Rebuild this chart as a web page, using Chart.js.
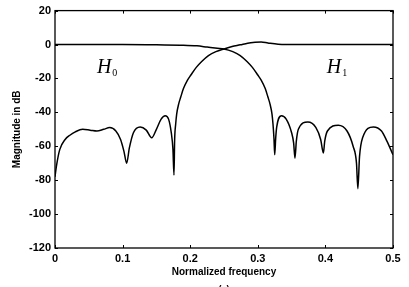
<!DOCTYPE html>
<html>
<head>
<meta charset="utf-8">
<script src="https://cdn.jsdelivr.net/npm/chart.js@4.4.1/dist/chart.umd.min.js"></script>
<style>
  html, body { margin: 0; padding: 0; background: #fff; }
  #wrap { width: 409px; height: 287px; }
</style>
</head>
<body>
<div id="wrap"><canvas id="chart"></canvas></div>
<script>
// 低通 H0 的幅频响应
const freqH0 = [0, 0.05, 0.1, 0.15, 0.19, 0.21, 0.225, 0.24, 0.25, 0.263, 0.274, 0.284, 0.292, 0.3, 0.305, 0.311,
  0.315, 0.318, 0.321, 0.3225, 0.324, 0.325,
  0.3265, 0.328, 0.335, 0.342, 0.35, 0.353, 0.355, 0.357, 0.36, 0.374, 0.386, 0.393, 0.397, 0.399, 0.403,
  0.419, 0.432, 0.441, 0.446, 0.448, 0.4505, 0.455, 0.471, 0.483, 0.491, 0.5];
const magH0 = [0, 0, 0, -0.2, -0.4, -0.8, -1.5, -2.2, -2.6, -4.2, -6.5, -10, -13.5, -18, -21, -26,
  -31, -35, -41, -47, -56, -65,
  -55, -48.6, -42, -44, -52, -58, -67, -57, -50, -45.7, -49, -56, -64, -57, -51,
  -47.6, -51, -60, -70, -85, -66, -55, -48.6, -51, -57, -65];

// 高通 H1 的幅频响应
const freqH1 = [0, 0.002, 0.007, 0.015, 0.022, 0.03, 0.041, 0.052, 0.062, 0.072, 0.081, 0.09, 0.097, 0.102, 0.106,
  0.11, 0.116, 0.126, 0.135, 0.143, 0.15, 0.157, 0.163, 0.168, 0.172, 0.1745, 0.176,
  0.177, 0.1785, 0.18, 0.183, 0.186, 0.19, 0.196, 0.201, 0.209, 0.217, 0.227, 0.238, 0.25,
  0.262, 0.274, 0.285, 0.296, 0.305, 0.315, 0.33, 0.36, 0.4, 0.45, 0.5];
const magH1 = [-78, -72, -62, -56, -53.5, -51.5, -50, -50.5, -51, -50, -49, -51, -56, -63, -70,
  -61, -52, -48.6, -50.5, -55, -50, -44, -42, -44, -52, -62, -77,
  -56, -47, -41, -35, -31, -26, -21, -18, -13.5, -10, -6.5, -4.2, -2.6,
  -1.2, -0.2, 0.8, 1.3, 1.5, 0.9, 0.2, 0, 0, 0, 0];

// 刻度
const freqTicks = [0, 0.1, 0.2, 0.3, 0.4, 0.5];
const dbTicks = [-120, -100, -80, -60, -40, -20, 0, 20];

// 曲线标注
const curveLabels = [
  { name: 'H', sub: '0', x: 0.062, y: -17 },
  { name: 'H', sub: '1', x: 0.402, y: -17 }
];

const toPoints = (xs, ys) => xs.map((x, i) => ({ x, y: ys[i] }));

const FONT = '"Liberation Sans", Arial, sans-serif';

// 边框、内向刻度和文字标注
const framePlugin = {
  id: 'frame',
  afterDraw(chart) {
    const { ctx, chartArea: a, scales } = chart;
    const xs = scales.x, ys = scales.y;
    ctx.save();
    ctx.strokeStyle = '#000';
    ctx.lineWidth = 1.3;
    ctx.strokeRect(a.left, a.top, a.right - a.left, a.bottom - a.top);
    ctx.lineWidth = 1;
    ctx.beginPath();
    freqTicks.forEach(v => {
      const px = Math.round(xs.getPixelForValue(v)) + 0.5;
      ctx.moveTo(px, a.bottom); ctx.lineTo(px, a.bottom - 3);
      ctx.moveTo(px, a.top); ctx.lineTo(px, a.top + 3);
    });
    dbTicks.forEach(v => {
      const py = Math.round(ys.getPixelForValue(v)) + 0.5;
      ctx.moveTo(a.left, py); ctx.lineTo(a.left + 3, py);
      ctx.moveTo(a.right, py); ctx.lineTo(a.right - 3, py);
    });
    ctx.stroke();

    ctx.fillStyle = '#000';
    ctx.textBaseline = 'alphabetic';
    curveLabels.forEach(l => {
      const px = xs.getPixelForValue(l.x);
      const py = ys.getPixelForValue(l.y);
      ctx.font = 'italic 20px "Liberation Serif", "Times New Roman", serif';
      ctx.textAlign = 'left';
      ctx.fillText(l.name, px, py);
      const w = ctx.measureText(l.name).width;
      ctx.font = '10px "Liberation Serif", "Times New Roman", serif';
      ctx.fillText(l.sub, px + w + 1, py + 3);
    });

    ctx.font = 'bold 9px ' + FONT;
    ctx.textAlign = 'center';
    ctx.fillText('(a)', xs.getPixelForValue(0.25), 292);
    ctx.restore();
  }
};

new Chart(document.getElementById('chart'), {
  type: 'line',
  data: {
    datasets: [
      {
        label: 'H0',
        data: toPoints(freqH0, magH0),
        borderColor: '#000',
        borderWidth: 1.5,
        pointRadius: 0,
        cubicInterpolationMode: 'monotone',
        fill: false
      },
      {
        label: 'H1',
        data: toPoints(freqH1, magH1),
        borderColor: '#000',
        borderWidth: 1.5,
        pointRadius: 0,
        cubicInterpolationMode: 'monotone',
        fill: false
      }
    ]
  },
  options: {
    responsive: true,
    maintainAspectRatio: false,
    animation: false,
    layout: { padding: { left: 0, right: 16, top: 10, bottom: 9 } },
    plugins: {
      legend: { display: false },
      tooltip: { enabled: false }
    },
    scales: {
      x: {
        type: 'linear',
        min: 0,
        max: 0.5,
        afterBuildTicks: s => { s.ticks = freqTicks.map(v => ({ value: v })); },
        afterFit: s => { s.height = 30; },
        grid: { display: false, drawTicks: false },
        border: { display: false },
        ticks: {
          color: '#000',
          padding: 4,
          maxRotation: 0,
          font: { family: FONT, size: 11, weight: 'bold' },
          callback: v => (v === 0 ? '0' : v.toFixed(1))
        },
        title: {
          display: true,
          text: 'Normalized frequency',
          color: '#000',
          font: { family: FONT, size: 10, weight: 'bold' },
          padding: { top: 0, bottom: 0 }
        }
      },
      y: {
        min: -120,
        max: 20,
        afterBuildTicks: s => { s.ticks = dbTicks.map(v => ({ value: v })); },
        afterFit: s => { s.width = 55; },
        grid: { display: false, drawTicks: false },
        border: { display: false },
        ticks: {
          color: '#000',
          padding: 4,
          font: { family: FONT, size: 11, weight: 'bold' }
        },
        title: {
          display: true,
          text: 'Magnitude in dB',
          color: '#000',
          font: { family: FONT, size: 10, weight: 'bold' },
          padding: { top: 11, bottom: 0 }
        }
      }
    }
  },
  plugins: [framePlugin]
});
</script>
</body>
</html>
